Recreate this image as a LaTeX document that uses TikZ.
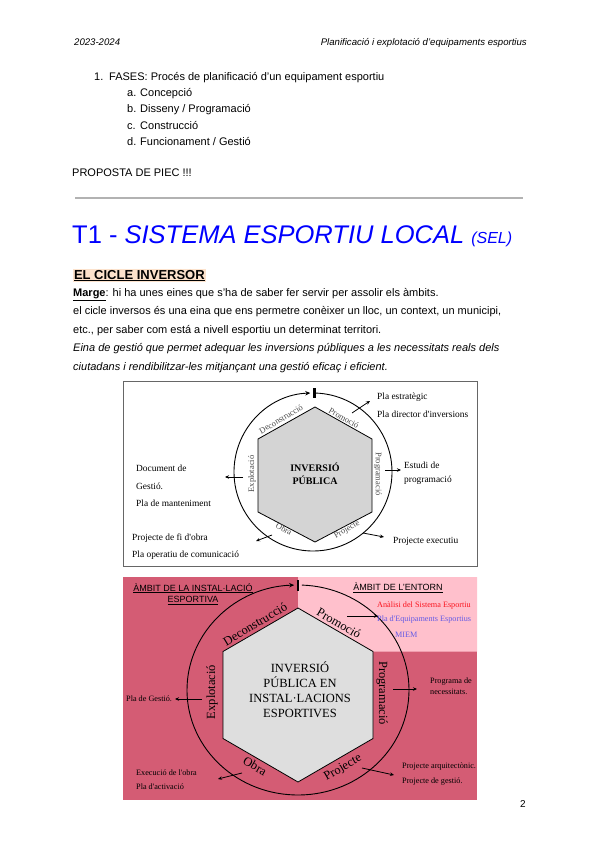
\documentclass[tikz,border=0pt]{standalone}
\usepackage{fontspec}
\setmainfont{Liberation Sans}
\newfontfamily\tms{Liberation Serif}
\usetikzlibrary{arrows.meta}

\definecolor{titleblue}{RGB}{0,0,255}
\definecolor{peach}{RGB}{252,226,204}
\definecolor{rosedark}{RGB}{212,92,116}
\definecolor{roselight}{RGB}{255,192,204}
\definecolor{hexgray}{RGB}{212,212,212}
\definecolor{hexlight}{RGB}{222,222,222}
\definecolor{notered}{RGB}{250,20,30}
\definecolor{noteblue}{RGB}{100,90,230}

\tikzset{
  hdr/.style={inner sep=0pt, font=\fontsize{9.6}{11}\selectfont\itshape},
  body/.style={anchor=base west, inner sep=0pt, font=\fontsize{11}{13}\selectfont},
  lbla/.style={inner sep=0pt, text=black!70, font={\tms\fontsize{8.5}{10}\selectfont}},
  lblb/.style={inner sep=0pt, font={\tms\fontsize{12.5}{14}\selectfont}},
  notea/.style={anchor=west, inner sep=0pt, font={\tms\fontsize{9.4}{11}\selectfont}},
  noteb/.style={anchor=west, inner sep=0pt, font={\tms\fontsize{8.2}{10}\selectfont}},
  ambit/.style={inner sep=0pt, align=center, font=\fontsize{9}{11.5}\selectfont},
  arr/.style={-{Stealth[length=4pt,width=3.5pt]}, line width=0.8pt},
  ring/.style={line width=0.9pt, -{Stealth[length=5pt,width=4.5pt]}},
  bar/.style={line width=2.2pt},
}

\begin{document}
\begin{tikzpicture}[x=1pt,y=-1pt]
\useasboundingbox (0,0) rectangle (600,848);
\fill[white] (0,0) rectangle (600,848);

% header
\node[hdr, anchor=base west] (year) at (74,46) {2023-2024};
\node[hdr, anchor=base east] (subject) at (527,46) {Planificació i explotació d'equipaments esportius};

% fases
\node[body] (num) at (94,81) {1.};
\node[body] (fases) at (109,81) {FASES: Procés de planificació d'un equipament esportiu};
\node[body] (la) at (127,97) {a.};
\node[body] (fa) at (140,97) {Concepció};
\node[body] (lb) at (127,113) {b.};
\node[body] (fb) at (140,113) {Disseny / Programació};
\node[body] (lc) at (127,129) {c.};
\node[body] (fc) at (140,129) {Construcció};
\node[body] (ld) at (127,145) {d.};
\node[body] (fd) at (140,145) {Funcionament / Gestió};
\node[body] (piec) at (72,176) {PROPOSTA DE PIEC !!!};

\draw[line width=1.5pt, black!30] (75,198) -- (523,198);

% title
\node[anchor=base west, inner sep=0pt, text=titleblue, font=\fontsize{25.5}{30}\selectfont] (title) at (72,243)
  {T1 - \textit{SISTEMA ESPORTIU LOCAL} {\fontsize{16}{18}\selectfont\textit{(SEL)}}};

\node[anchor=base west, inner sep=0.8pt, fill=peach, font=\fontsize{13}{15}\selectfont\bfseries] (cicle) at (73,279) {\underline{EL CICLE INVERSOR}};
\node[body] (marge) at (73,296) {\textbf{\underline{Marge}}: hi ha unes eines que s'ha de saber fer servir per assolir els àmbits.};
\node[body] (cicle1) at (73,314) {el cicle inversos és una eina que ens permetre conèixer un lloc, un context, un municipi,};
\node[body] (cicle2) at (73,333) {etc., per saber com está a nivell esportiu un determinat territori.};
\node[body, font=\fontsize{11}{13}\selectfont\itshape] (eina1) at (73,351) {Eina de gestió que permet adequar les inversions públiques a les necessitats reals dels};
\node[body, font=\fontsize{11}{13}\selectfont\itshape] (eina2) at (73,370) {ciutadans i rendibilitzar-les mitjançant una gestió eficaç i eficient.};

% first cycle
\draw[black!60, line width=0.8pt] (123,381) rectangle (477,566);
\coordinate (c1) at (313,472);
\draw[ring] ([shift={(272:79)}]c1) arc[start angle=272, end angle=628, radius=79];
\draw[bar] (314.5,388) -- (314.5,398);
\draw[fill=hexgray, line width=0.8pt] (315,407) -- (372,439) -- (372,512) -- (315,542) -- (258,512) -- (258,439) -- cycle;
\node[inner sep=0pt, align=center, font={\tms\bfseries\fontsize{10}{13}\selectfont}] (inv1) at (315,474) {INVERSIÓ\\PÚBLICA};

\node[lbla, rotate=31] (dec1) at (281,419) {Deconstrucció};
\node[lbla, rotate=-30] (pro1) at (344,418) {Promoció};
\node[lbla, rotate=-90] (prg1) at (378,474) {Programació};
\node[lbla, rotate=30] (prj1) at (347,530) {Projecte};
\node[lbla, rotate=-30] (obr1) at (284,529) {Obra};
\node[lbla, rotate=90] (exp1) at (252,474) {Explotació};

\node[notea] (pe1) at (377,397) {Pla estratègic};
\node[notea] (pd1) at (377,414) {Pla director d'inversions};
\node[notea] (es1) at (404,465) {Estudi de};
\node[notea] (pg1) at (404,480) {programació};
\node[notea] (px1) at (393,541) {Projecte executiu};
\node[notea] (pf1) at (132,538) {Projecte de fi d'obra};
\node[notea] (po1) at (132,555) {Pla operatiu de comunicació};
\node[notea] (dg1) at (136,468) {Document de};
\node[notea] (gs1) at (136,486) {Gestió.};
\node[notea] (pm1) at (136,503) {Pla de manteniment};

\coordinate (pr1s) at (352,413); \coordinate (pr1e) at (370,401);
\coordinate (pg1s) at (385,470); \coordinate (pg1e) at (401,470);
\coordinate (pj1s) at (363,533); \coordinate (pj1e) at (384,537);
\coordinate (ob1s) at (272,535); \coordinate (ob1e) at (256,541);
\coordinate (ex1s) at (243,477); \coordinate (ex1e) at (225,477);
\draw[arr] (pr1s) -- (pr1e);
\draw[arr] (pg1s) -- (pg1e);
\draw[arr] (pj1s) -- (pj1e);
\draw[arr] (ob1s) -- (ob1e);
\draw[arr] (ex1s) -- (ex1e);

% second cycle
\fill[rosedark] (123,577) rectangle (477,800);
\fill[roselight] (298,577) -- (477,577) -- (477,651.5) -- (373,651.5) -- (298,608) -- cycle;
\coordinate (c2) at (298,690);
\draw[ring] ([shift={(272:111 and 105)}]c2) arc[start angle=272, end angle=628, x radius=111, y radius=105];
\draw[bar] (298,580) -- (298,591);
\draw[fill=hexlight, line width=0.8pt] (298,608) -- (373,651.5) -- (373,738.5) -- (298,782) -- (223,738.5) -- (223,651.5) -- cycle;
\node[inner sep=0pt, align=center, font={\tms\fontsize{12.5}{15}\selectfont}] (inv2) at (300,690) {INVERSIÓ\\PÚBLICA EN\\INSTAL·LACIONS\\ESPORTIVES};

\node[lblb, rotate=31] (dec2) at (255,624) {Deconstrucció};
\node[lblb, rotate=-30] (pro2) at (339,623) {Promoció};
\node[lblb, rotate=-90] (prg2) at (382,693) {Programació};
\node[lblb, rotate=30] (prj2) at (343,768) {Projecte};
\node[lblb, rotate=-30] (obr2) at (255,766) {Obra};
\node[lblb, rotate=90] (exp2) at (212,692) {Explotació};

\node[ambit] (amb1) at (193,594) {\underline{ÀMBIT DE LA INSTAL·LACIÓ}\\\underline{ESPORTIVA}};
\node[ambit] (amb2) at (398,588) {\underline{ÀMBIT DE L'ENTORN}};

\node[noteb, text=notered] (an2) at (377,606) {Anàlisi del Sistema Esportiu};
\node[noteb, text=noteblue] (pe2) at (377,620) {Pla d'Equipaments Esportius};
\node[noteb, text=noteblue] (mi2) at (395,635) {MIEM};
\node[noteb] (pn2) at (430,682) {Programa de};
\node[noteb] (nc2) at (430,692) {necessitats.};
\node[noteb] (pa2) at (402,767) {Projecte arquitectònic.};
\node[noteb] (pgs2) at (402,782) {Projecte de gestió.};
\node[noteb] (gs2) at (126,699) {Pla de Gestió.};
\node[noteb] (eo2) at (136,773) {Execució de l'obra};
\node[noteb] (ac2) at (136,787) {Pla d'activació};

\coordinate (pr2s) at (347,616); \coordinate (pr2e) at (378,616);
\coordinate (pg2s) at (393,689); \coordinate (pg2e) at (417,689);
\coordinate (pj2s) at (362,768); \coordinate (pj2e) at (394,775);
\coordinate (ob2s) at (242,773); \coordinate (ob2e) at (218,779);
\coordinate (ex2s) at (202,699); \coordinate (ex2e) at (175,699);
\draw[arr] (pr2s) -- (pr2e);
\draw[arr] (pg2s) -- (pg2e);
\draw[arr] (pj2s) -- (pj2e);
\draw[arr] (ob2s) -- (ob2e);
\draw[arr] (ex2s) -- (ex2e);

% page number
\node[inner sep=0pt, font=\fontsize{10}{12}\selectfont] (page) at (523,804) {2};
\end{tikzpicture}
\end{document}
